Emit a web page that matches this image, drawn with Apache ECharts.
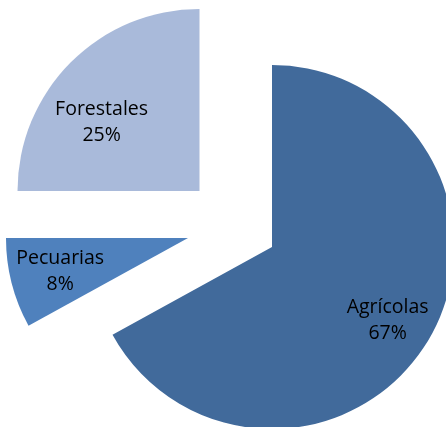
<!DOCTYPE html>
<html>
<head>
<meta charset="utf-8">
<script src="https://cdn.jsdelivr.net/npm/echarts@6/dist/echarts.min.js"></script>
<style>
html,body{margin:0;padding:0;background:#fff;}
#c{width:446px;height:427px;}
</style>
</head>
<body>
<div id="c"></div>
<script>
const categories = ['Agrícolas', 'Pecuarias', 'Forestales'];
const values = [67, 8, 25];
const colors = ['#416A9B', '#4F81BD', '#A9BADA'];

// exploded slice layout (per slice): center, radius, label distance
const centers = [[272, 247], [188, 238], [199.5, 191]];
const labelRadius = [272, 264, 237];
const labelShift = [[-4, 3], [3, 0], [-12, 17]];
const R = 182;

const chart = echarts.init(document.getElementById('c'), null, {renderer: 'canvas'});
const series = [];
categories.forEach((name, k) => {
  const data = categories.map((n, i) => ({
    name: n,
    value: values[i],
    itemStyle: {color: i === k ? colors[i] : 'rgba(0,0,0,0)'}
  }));
  series.push({
    type: 'pie',
    center: centers[k],
    radius: [0, R],
    startAngle: 90,
    clockwise: true,
    silent: true,
    animation: false,
    avoidLabelOverlap: false,
    percentPrecision: 0,
    itemStyle: {borderWidth: 0},
    label: {show: false},
    labelLine: {show: false},
    emphasis: {disabled: true},
    data: data
  });
  const ldata = categories.map((n, i) => ({
    name: n,
    value: values[i],
    itemStyle: {color: 'rgba(0,0,0,0)'},
    label: {show: i === k}
  }));
  series.push({
    type: 'pie',
    center: centers[k],
    radius: [0, labelRadius[k]],
    startAngle: 90,
    clockwise: true,
    silent: true,
    animation: false,
    avoidLabelOverlap: false,
    percentPrecision: 0,
    itemStyle: {borderWidth: 0},
    label: {
      position: 'inside',
      rotate: 0,
      formatter: '{b}\n{d}%',
      fontFamily: 'Open Sans',
      fontSize: 19.5,
      lineHeight: 26,
      color: '#000',
      align: 'center'
    },
    labelLine: {show: false},
    labelLayout: {dx: labelShift[k][0], dy: labelShift[k][1]},
    emphasis: {disabled: true},
    data: ldata
  });
});

chart.setOption({
  backgroundColor: '#fff',
  animation: false,
  series: series
});
</script>
</body>
</html>
